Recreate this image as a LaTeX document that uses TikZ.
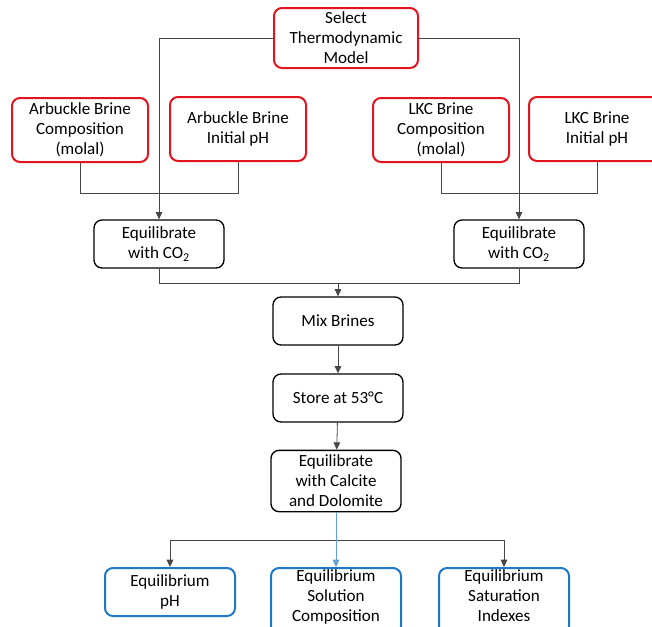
\documentclass[tikz,border=0pt]{standalone}
\usepackage{fontspec}
\setmainfont{Carlito}
\usepackage{xcolor}
\usetikzlibrary{arrows.meta,positioning}

\definecolor{inred}{RGB}{226,20,30}
\definecolor{outblue}{RGB}{30,120,200}
\definecolor{linegray}{RGB}{70,70,70}

\begin{document}
\begin{tikzpicture}[
  x=0.75pt, y=-0.75pt,
  box/.style={draw, rounded corners=6pt, align=center, inner sep=2pt,
    font=\fontsize{12.8}{15}\selectfont, minimum width=97.5pt, minimum height=36pt,
    line width=1pt},
  input/.style={box, draw=inred, line width=1.5pt, minimum width=102pt, minimum height=48pt},
  output/.style={box, draw=outblue, line width=1.5pt, anchor=north, inner ysep=1.5pt},
  >={Triangle[width=5pt,length=5.5pt]},
  link/.style={draw=linegray, line width=0.6pt}]
  \useasboundingbox (0,0) rectangle (652,626);
  % inputs
  \node[input, minimum width=108pt, minimum height=45pt] (model) at (346,38) {Select\\Thermodynamic\\Model};
  \node[input] (arbComp) at (80,130) {Arbuckle Brine\\Composition\\(molal)};
  \node[input] (arbPH) at (238,129) {Arbuckle Brine\\Initial pH};
  \node[input] (lkcComp) at (441,130) {LKC Brine\\Composition\\(molal)};
  \node[input] (lkcPH) at (597,129) {LKC Brine\\Initial pH};
  % process
  \node[box] (eqArb) at (159,244) {Equilibrate\\with CO\textsubscript{2}};
  \node[box] (eqLkc) at (519,244) {Equilibrate\\with CO\textsubscript{2}};
  \node[box] (mix) at (338,321) {Mix Brines};
  \node[box] (store) at (338,398) {Store at 53°C};
  \node[box, minimum height=46pt] (calc) at (336,481) {Equilibrate\\with Calcite\\and Dolomite};
  % outputs (the lower two run off the page)
  \node[output] (outPH) at (170,567) {Equilibrium\\pH};
  \node[output, text depth=8pt] (outSol) at (336,567) {Equilibrium\\Solution\\Composition};
  \node[output, text depth=8pt] (outSI) at (504,567) {Equilibrium\\Saturation\\Indexes};
  % junctions
  \coordinate (mixJ) at (338,283);
  \coordinate (outJ) at (336,540);
  % connectors
  \draw[link] (arbComp.south) -- ++(0,30) -| (arbPH.south);
  \draw[link] (lkcComp.south) -- ++(0,30) -| (lkcPH.south);
  \draw[link, ->] (model.west) -| (eqArb.north);
  \draw[link, ->] (model.east) -| (eqLkc.north);
  \draw[link] (eqArb.south) |- (mixJ) -| (eqLkc.south);
  \draw[link, ->] (mixJ) -- (mix);
  \draw[link, ->] (mix) -- (store);
  \draw[link, ->] (store) -- (calc);
  \draw[link] (outPH.north |- outJ) -- (outSI.north |- outJ);
  \draw[link, ->] (outJ) -| (outPH.north);
  \draw[link, ->] (outJ) -| (outSI.north);
  \draw[link, ->, draw=outblue!70] (calc.south) -- (outSol.north);
\end{tikzpicture}
\end{document}
